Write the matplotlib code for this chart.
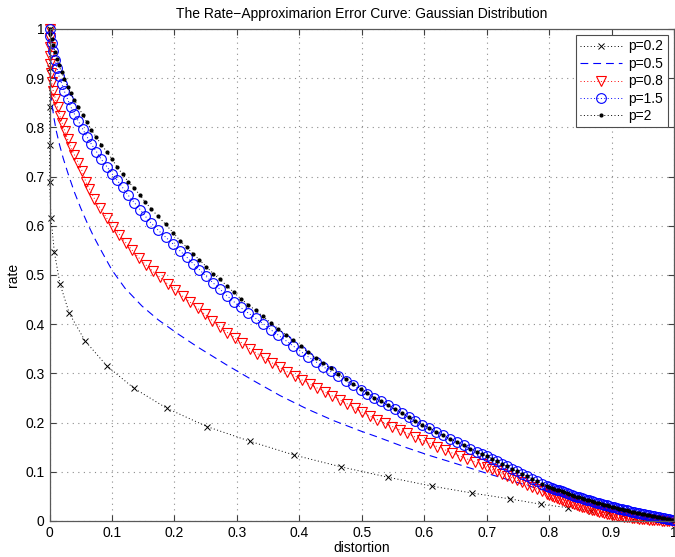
import matplotlib
matplotlib.use("Agg")
import matplotlib.pyplot as plt

plt.rcParams['font.family'] = ['Liberation Sans', 'DejaVu Sans']

# ---- data ----
p02_dist = [0, 0, 0, 0, 0, 0.0024, 0.0077, 0.0168, 0.0317, 0.057, 0.092, 0.135, 0.188,
            0.252, 0.321, 0.392, 0.467, 0.542, 0.612, 0.676, 0.737, 0.787, 0.831, 0.867,
            0.895, 0.919, 0.938, 0.953, 0.966, 0.976, 0.984, 0.990, 0.995, 1.0]
p02_rate = [1.0, 0.921, 0.842, 0.765, 0.69, 0.616, 0.547, 0.482, 0.422, 0.366, 0.315, 0.27,
            0.229, 0.192, 0.162, 0.134, 0.11, 0.089, 0.071, 0.057, 0.045, 0.034, 0.027, 0.02,
            0.016, 0.012, 0.009, 0.007, 0.005, 0.004, 0.003, 0.002, 0.001, 0.0]

p05_dist = [0, 0.0003, 0.001, 0.002, 0.004, 0.007, 0.011, 0.016, 0.022, 0.030, 0.040, 0.050,
            0.060, 0.070, 0.080, 0.090, 0.100, 0.121, 0.148, 0.174, 0.206, 0.238, 0.284, 0.327,
            0.369, 0.412, 0.455, 0.498, 0.527, 0.567, 0.609, 0.650, 0.700, 0.750, 0.800, 0.850,
            0.900, 0.950, 1.0]
p05_rate = [1.0, 0.95, 0.91, 0.875, 0.848, 0.820, 0.792, 0.765, 0.737, 0.705, 0.668, 0.636,
            0.607, 0.580, 0.556, 0.533, 0.510, 0.473, 0.437, 0.409, 0.380, 0.353, 0.317, 0.285,
            0.255, 0.228, 0.204, 0.183, 0.170, 0.151, 0.133, 0.117, 0.097, 0.078, 0.059, 0.041,
            0.025, 0.011, 0.0]

p08_dist = [0.000, 0.000, 0.0003, 0.0008, 0.0014, 0.0022, 0.0035, 0.0058, 0.0095, 0.013,
            0.0165, 0.0205, 0.0245, 0.029, 0.034, 0.040, 0.046, 0.052,
            0.058, 0.064, 0.072, 0.081, 0.092, 0.102, 0.112, 0.122, 0.132, 0.143,
            0.154, 0.165, 0.177, 0.189, 0.201, 0.213, 0.225, 0.237, 0.249,
            0.261, 0.273, 0.285, 0.297, 0.309, 0.321, 0.333, 0.345, 0.357, 0.369, 0.381,
            0.393, 0.405, 0.417, 0.429, 0.441, 0.453, 0.465, 0.477, 0.489, 0.501,
            0.513, 0.525, 0.537, 0.549, 0.561, 0.573, 0.585, 0.597, 0.609, 0.621, 0.633,
            0.645, 0.657, 0.669, 0.681, 0.692,
            0.700, 0.708, 0.716, 0.724, 0.732, 0.740, 0.748, 0.756, 0.764, 0.772, 0.780,
            0.788, 0.796,
            0.800, 0.804, 0.808, 0.812, 0.816, 0.820, 0.824, 0.828, 0.832, 0.836,
            0.840, 0.844, 0.848, 0.852, 0.856, 0.860, 0.864, 0.868, 0.872, 0.876,
            0.880, 0.884, 0.888, 0.892, 0.896, 0.900, 0.904, 0.908, 0.912, 0.916,
            0.920, 0.924, 0.928, 0.932, 0.936, 0.940, 0.944, 0.948, 0.952, 0.956,
            0.960, 0.964, 0.968, 0.972, 0.976, 0.980, 0.984, 0.988, 0.992, 0.996, 1.000]
p08_rate = [1.000, 0.982, 0.964, 0.946, 0.928, 0.910, 0.892, 0.875, 0.858, 0.841,
            0.824, 0.808, 0.792, 0.776, 0.760, 0.744, 0.728, 0.712,
            0.690, 0.675, 0.655, 0.636, 0.615, 0.598, 0.582, 0.566, 0.551, 0.535,
            0.521, 0.508, 0.495, 0.482, 0.470, 0.457, 0.445, 0.432, 0.420,
            0.407, 0.395, 0.383, 0.372, 0.361, 0.350, 0.340, 0.331, 0.321, 0.312, 0.303,
            0.295, 0.286, 0.278, 0.270, 0.262, 0.254, 0.246, 0.238, 0.229, 0.221,
            0.213, 0.206, 0.199, 0.192, 0.185, 0.178, 0.171, 0.164, 0.158, 0.151, 0.145,
            0.138, 0.132, 0.126, 0.120, 0.115,
            0.110, 0.105, 0.101, 0.096, 0.092, 0.088, 0.083, 0.079, 0.074, 0.069, 0.065,
            0.060, 0.055,
            0.053, 0.051, 0.049, 0.047, 0.045, 0.043, 0.041, 0.039, 0.038, 0.036,
            0.034, 0.032, 0.031, 0.029, 0.028, 0.026, 0.025, 0.023, 0.022, 0.020,
            0.019, 0.018, 0.017, 0.015, 0.014, 0.013, 0.012, 0.011, 0.011, 0.010,
            0.009, 0.008, 0.008, 0.007, 0.006, 0.006, 0.005, 0.005, 0.004, 0.004,
            0.003, 0.003, 0.002, 0.002, 0.0015, 0.001, 0.0008, 0.0005, 0.0003, 0.0001, 0.0]

p15_dist = [0.000, 0.0015, 0.0035, 0.006, 0.009, 0.012, 0.015, 0.0195, 0.024, 0.029, 0.034,
            0.040, 0.046, 0.053, 0.060, 0.067, 0.075, 0.083, 0.092, 0.100,
            0.108, 0.117, 0.126, 0.136, 0.145, 0.153, 0.163, 0.174, 0.186, 0.198, 0.209,
            0.220, 0.230, 0.240, 0.251, 0.262,
            0.273, 0.284, 0.295, 0.306, 0.318, 0.330, 0.342, 0.354, 0.366, 0.378, 0.390,
            0.402, 0.414, 0.426, 0.438, 0.450, 0.462, 0.474, 0.486, 0.498,
            0.509, 0.520, 0.531, 0.542, 0.553, 0.564, 0.575, 0.586, 0.597, 0.608, 0.619,
            0.630, 0.641, 0.652, 0.663, 0.674, 0.685, 0.692,
            0.700, 0.708, 0.716, 0.724, 0.732, 0.740, 0.748, 0.756, 0.764, 0.772, 0.780,
            0.788, 0.796,
            0.800, 0.804, 0.808, 0.812, 0.816, 0.820, 0.824, 0.828, 0.832, 0.836,
            0.840, 0.844, 0.848, 0.852, 0.856, 0.860, 0.864, 0.868, 0.872, 0.876,
            0.880, 0.884, 0.888, 0.892, 0.896, 0.900, 0.904, 0.908, 0.912, 0.916,
            0.920, 0.924, 0.928, 0.932, 0.936, 0.940, 0.944, 0.948, 0.952, 0.956,
            0.960, 0.964, 0.968, 0.972, 0.976, 0.980, 0.984, 0.988, 0.992, 0.996, 1.000]
p15_rate = [1.000, 0.985, 0.971, 0.955, 0.937, 0.921, 0.905, 0.889, 0.873, 0.857, 0.842,
            0.827, 0.813, 0.797, 0.781, 0.766, 0.751, 0.735, 0.720, 0.706,
            0.693, 0.678, 0.662, 0.647, 0.633, 0.620, 0.605, 0.591, 0.577, 0.563, 0.549,
            0.536, 0.523, 0.511, 0.497, 0.484,
            0.471, 0.458, 0.446, 0.434, 0.423, 0.412, 0.401, 0.389, 0.378, 0.367, 0.356,
            0.345, 0.334, 0.324, 0.314, 0.304, 0.294, 0.285, 0.276, 0.267,
            0.259, 0.251, 0.243, 0.235, 0.227, 0.219, 0.211, 0.203, 0.196, 0.189, 0.181,
            0.174, 0.167, 0.161, 0.154, 0.147, 0.140, 0.136,
            0.132, 0.127, 0.121, 0.116, 0.111, 0.106, 0.101, 0.096, 0.091, 0.086, 0.081,
            0.076, 0.071,
            0.069, 0.067, 0.065, 0.064, 0.062, 0.060, 0.058, 0.056, 0.055, 0.053,
            0.051, 0.049, 0.048, 0.046, 0.045, 0.043, 0.042, 0.040, 0.039, 0.037,
            0.036, 0.035, 0.033, 0.032, 0.030, 0.029, 0.028, 0.027, 0.025, 0.024,
            0.023, 0.022, 0.021, 0.019, 0.018, 0.017, 0.016, 0.015, 0.014, 0.013,
            0.012, 0.011, 0.010, 0.009, 0.008, 0.007, 0.006, 0.005, 0.004, 0.003, 0.002]

p2_dist = list(p15_dist)
p2_rate = [1.000, 0.989, 0.979, 0.967, 0.953, 0.940, 0.926, 0.912, 0.898, 0.883, 0.869,
           0.855, 0.842, 0.826, 0.810, 0.795, 0.780, 0.765, 0.750, 0.736,
           0.720, 0.705, 0.690, 0.676, 0.662, 0.649, 0.634, 0.619, 0.603, 0.586, 0.570,
           0.556, 0.543, 0.531, 0.517, 0.503,
           0.491, 0.478, 0.465, 0.452, 0.440, 0.428, 0.416, 0.403, 0.391, 0.379, 0.367,
           0.355, 0.343, 0.332, 0.321, 0.310, 0.299, 0.289, 0.279, 0.269,
           0.260, 0.251, 0.243, 0.235, 0.227, 0.219, 0.211, 0.203, 0.196, 0.189, 0.181,
           0.174, 0.167, 0.161, 0.154, 0.147, 0.140, 0.136,
           0.132, 0.127, 0.121, 0.116, 0.111, 0.106, 0.101, 0.096, 0.091, 0.086, 0.081,
           0.076, 0.071,
           0.069, 0.067, 0.065, 0.064, 0.062, 0.060, 0.058, 0.056, 0.055, 0.053,
           0.051, 0.049, 0.048, 0.046, 0.045, 0.043, 0.042, 0.040, 0.039, 0.037,
           0.036, 0.035, 0.033, 0.032, 0.030, 0.029, 0.028, 0.027, 0.025, 0.024,
           0.023, 0.022, 0.021, 0.019, 0.018, 0.017, 0.016, 0.015, 0.014, 0.013,
           0.012, 0.011, 0.010, 0.009, 0.008, 0.007, 0.006, 0.005, 0.004, 0.003, 0.002]

labels = ['p=0.2', 'p=0.5', 'p=0.8', 'p=1.5', 'p=2']
ticks = [0, 0.1, 0.2, 0.3, 0.4, 0.5, 0.6, 0.7, 0.8, 0.9, 1]
tick_labels = ['0', '0.1', '0.2', '0.3', '0.4', '0.5', '0.6', '0.7', '0.8', '0.9', '1']

# ---- figure ----
fig = plt.figure(figsize=(6.75, 5.57), dpi=100)
ax = fig.add_axes([49.5 / 675, 1 - 521 / 557, (674 - 49.5) / 675, (521 - 29) / 557])

dot = (0, (1, 2.5))
ax.plot(p02_dist, p02_rate, color='k', linestyle=dot, lw=0.7, marker='x', ms=5,
        mew=0.7, label=labels[0], clip_on=False)
ax.plot(p05_dist, p05_rate, color='b', linestyle=(0, (7, 4.5)), lw=0.8, label=labels[1])
ax.plot(p08_dist, p08_rate, color='r', linestyle=dot, lw=0.7, marker='v', ms=7.5,
        mfc='none', mew=0.8, label=labels[2], clip_on=False)
ax.plot(p15_dist, p15_rate, color='b', linestyle=dot, lw=0.7, marker='o', ms=7,
        mfc='none', mew=0.8, label=labels[3], clip_on=False)
ax.plot(p2_dist, p2_rate, color='k', linestyle=dot, lw=0.7, marker='.', ms=4,
        label=labels[4], clip_on=False)

ax.set_xlim(0, 1)
ax.set_ylim(0, 1)
ax.set_xticks(ticks)
ax.set_xticklabels(tick_labels)
ax.set_yticks(ticks)
ax.set_yticklabels(tick_labels)
ax.tick_params(direction='in', length=4, width=0.8, colors='0.25', labelcolor='k',
               labelsize=10, top=True, right=True, pad=3.5)
for s in ax.spines.values():
    s.set_color('0.35')
    s.set_linewidth(0.9)
ax.grid(True, color='0.55', linestyle=(0, (1, 4)), lw=0.8)
ax.set_axisbelow(True)

ax.set_title('The Rate\u2212Approximarion Error Curve: Gaussian Distribution', fontsize=10, pad=8)
ax.set_xlabel('distortion', fontsize=10, labelpad=1)
ax.set_ylabel('rate', fontsize=10, labelpad=4)

leg = ax.legend(loc='upper right', fontsize=10, handlelength=3, numpoints=1,
                fancybox=False, framealpha=1, edgecolor='0.3', borderaxespad=0.45,
                borderpad=0.3, labelspacing=0.25, handletextpad=0.5)
leg.get_frame().set_linewidth(0.8)

fig.savefig('out.png', dpi=100)
